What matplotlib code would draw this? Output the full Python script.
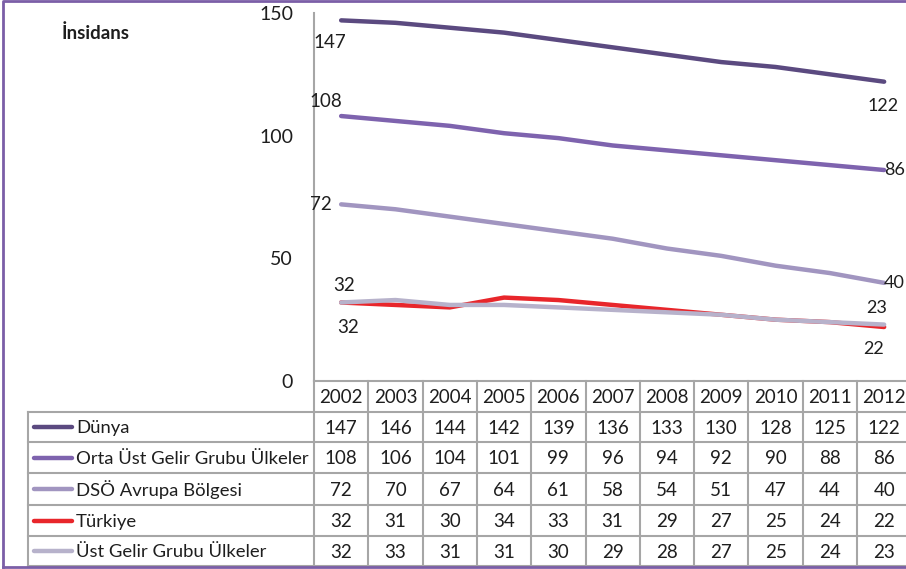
import numpy as np
import matplotlib
matplotlib.use("Agg")
import matplotlib.pyplot as plt

plt.rcParams.update({"font.family": ["Lato", "DejaVu Sans"], "font.size": 13})

years = [2002, 2003, 2004, 2005, 2006, 2007, 2008, 2009, 2010, 2011, 2012]
series_names = ["Dünya", "Orta Üst Gelir Grubu Ülkeler", "DSÖ Avrupa Bölgesi",
                "Türkiye", "Üst Gelir Grubu Ülkeler"]
dunya   = [147, 146, 144, 142, 139, 136, 133, 130, 128, 125, 122]
orta    = [108, 106, 104, 101, 99, 96, 94, 92, 90, 88, 86]
dso     = [72, 70, 67, 64, 61, 58, 54, 51, 47, 44, 40]
turkiye = [32, 31, 30, 34, 33, 31, 29, 27, 25, 24, 22]
ust     = [32, 33, 31, 31, 30, 29, 28, 27, 25, 24, 23]
y_ticks = [0, 50, 100, 150]

colors = ["#5B4A80", "#7E63AE", "#A195C0", "#E8262B", "#B7B2CB"]
all_vals = [dunya, orta, dso, turkiye, ust]

# label offsets (pixels) for first / last point of each series
lab_first = [((-11, -22), "center"), ((-15, 15), "center"), ((-9, 0), "right"),
             ((7, -25), "center"), ((3, 17), "center")]
lab_last = [((-1, -24), "center"), ((0, 0), "left"), ((0, 0), "left"),
            ((-11, -22), "center"), ((-8, 17), "center")]

W, H = 906, 569
GRID = "#A6A6A6"
TXT = "#1E1E1E"
fig = plt.figure(figsize=(W / 100, H / 100), dpi=100)

# layout in pixels
x0 = 314
col_w = 54.3
y_top, y_zero = 13, 381
row_edges = [381, 412, 442, 473, 505, 536, 566]
tab_left = 28

# ── line chart ─────────────────────────────────────────────
ax = fig.add_axes([x0 / W, (H - y_zero) / H, col_w * len(years) / W, (y_zero - y_top) / H])
xi = np.arange(len(years))
for vals, c in zip(all_vals, colors):
    ax.plot(xi, vals, color=c, lw=3.2, solid_capstyle="round", zorder=3)

for vals, (off, ha) in zip(all_vals, lab_first):
    ax.annotate(str(vals[0]), (xi[0], vals[0]), xytext=off, textcoords="offset pixels",
                ha=ha, va="center", fontsize=13.5, color=TXT)
for vals, (off, ha) in zip(all_vals, lab_last):
    ax.annotate(str(vals[-1]), (xi[-1], vals[-1]), xytext=off, textcoords="offset pixels",
                ha=ha, va="center", fontsize=13, color=TXT)

ax.set_xlim(-0.5, len(years) - 0.5)
ax.set_ylim(0, 150)
ax.set_yticks(y_ticks)
ax.set_yticklabels([str(t) for t in y_ticks], fontsize=14, color=TXT)
ax.tick_params(axis="y", length=0, pad=15)
ax.set_xticks([])
for s in ["top", "right", "bottom"]:
    ax.spines[s].set_visible(False)
ax.spines["left"].set_color(GRID)
ax.spines["left"].set_linewidth(1.5)
ax.patch.set_alpha(0)

# ── data table (pixel coordinates) ─────────────────────────
tb = fig.add_axes([0, 0, 1, 1], zorder=-1)
tb.set_xlim(0, W)
tb.set_ylim(H, 0)
tb.axis("off")

col_edges = [x0 + k * col_w for k in range(len(years) + 1)]
# horizontal lines
tb.plot([x0, W], [row_edges[0]] * 2, color=GRID, lw=1.5)
for ry in row_edges[1:]:
    tb.plot([tab_left, W], [ry, ry], color=GRID, lw=1.5)
# vertical lines
tb.plot([tab_left, tab_left], [row_edges[1], row_edges[-1]], color=GRID, lw=1.5)
for cx in col_edges:
    tb.plot([cx, cx], [row_edges[0], row_edges[-1]], color=GRID, lw=1.5)

row_c = [(row_edges[i] + row_edges[i + 1]) / 2 for i in range(len(row_edges) - 1)]
for j, yr in enumerate(years):
    tb.text(x0 + (j + 0.5) * col_w, row_c[0] + 1, str(yr), ha="center", va="center",
            fontsize=13.5, color=TXT)
for i, (name, vals, c) in enumerate(zip(series_names, all_vals, colors)):
    cy = row_c[i + 1]
    tb.plot([34, 72], [cy, cy], color=c, lw=3.2, solid_capstyle="round")
    tb.text(76, cy + 1, name, ha="left", va="center", fontsize=13.3, color=TXT)
    for j, v in enumerate(vals):
        tb.text(x0 + (j + 0.5) * col_w, cy + 1, str(v), ha="center", va="center",
                fontsize=13.5, color=TXT)

tb.text(62, 33, "İnsidans", ha="left", va="center", fontsize=13.5, fontweight="bold",
        color=TXT)

# purple frame
tb.plot([3, 3, W + 5], [H - 2, 1, 1], color="#7B5EA7", lw=2)
tb.plot([3, W + 5], [H - 2, H - 2], color="#7B5EA7", lw=2)

fig.savefig("out.png", dpi=100)
